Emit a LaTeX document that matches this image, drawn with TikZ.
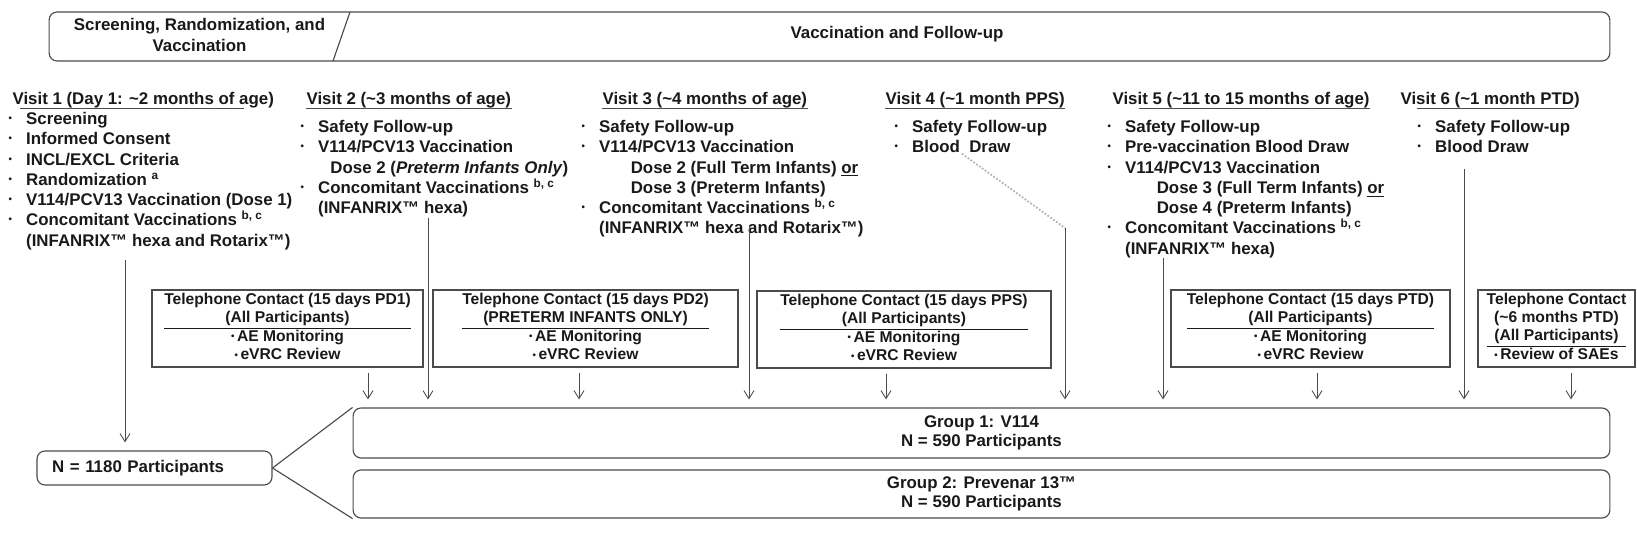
\documentclass[tikz,border=0pt]{standalone}
\usepackage{fontspec}
\setmainfont{Liberation Sans}
\usetikzlibrary{arrows.meta, positioning}

% list helpers
\newcommand{\itm}[1]{\makebox[10pt][l]{\raisebox{0.35ex}{\fontsize{5.5}{5.5}\selectfont\textbullet}}#1}
\newcommand{\cnt}[1]{\hspace*{10pt}#1}
\newcommand{\dose}[1]{\hspace*{28pt}#1}
\newcommand{\dt}{{\fontsize{5.5}{5.5}\selectfont\raisebox{0.35ex}{\textbullet}}\,}
\newcommand{\tm}{\texttrademark}
\newcommand{\sq}{\textasciitilde}

\begin{document}
\begin{tikzpicture}[x=0.02cm, y=-0.02cm, line width=0.65pt,
    >={Straight Barb[length=1.6mm, width=2mm]},
    vtxt/.style={font=\bfseries\fontsize{9.6}{11.5}\selectfont, text=txtgray, inner sep=0pt},
    vhead/.style={vtxt, anchor=west},
    vlist/.style={vtxt, anchor=north west, align=left},
    tele/.style={draw=linegray, font=\bfseries\fontsize{8.9}{10.4}\selectfont, text=txtgray,
        inner sep=0pt, minimum height=1.54cm},
    rbox/.style={draw=linegray, rounded corners=4.5pt, font=\bfseries\fontsize{9.6}{10.5}\selectfont,
        text=txtgray, align=center},
    grp/.style={rbox, minimum width=25.14cm},
    arr/.style={->, draw=linegray, line width=0.5pt, shorten >=0.16cm},
    uline/.style={draw=linegray, line width=0.5pt}
]

    % --- Definitions ---
    \definecolor{linegray}{RGB}{75, 75, 75}
    \definecolor{txtgray}{RGB}{25, 25, 25}

    \useasboundingbox (0,0) rectangle (1637,553);

    % --- Banner ---
    \node[rbox, minimum width=31.22cm, minimum height=0.98cm] (banner) at (829.5,36.5) {};
    \coordinate (s1) at (333,61);
    \coordinate (s2) at (350,12);
    \draw[linegray] (s1) -- (s2);
    \node[vtxt, align=center] (srv) at (199.5,35) {Screening, Randomization, and\\Vaccination};
    \node[vtxt] (vfu) at (897,34) {Vaccination and Follow-up};

    % --- Visit headers ---
    \node[vhead] (h1) at (12,100) {Visit 1 (Day 1: \sq2 months of age)};
    \node[vhead] (h2) at (306,100) {Visit 2 (\sq3 months of age)};
    \node[vhead] (h3) at (602,100) {Visit 3 (\sq4 months of age)};
    \node[vhead] (h4) at (885,100) {Visit 4 (\sq1 month PPS)};
    \node[vhead] (h5) at (1112,100) {Visit 5 (\sq11 to 15 months of age)};
    \node[vhead] (h6) at (1400,100) {Visit 6 (\sq1 month PTD)};

    \draw[uline, shorten <=0.16cm, shorten >=0.62cm] (h1.south west) -- (h1.south east);
    \draw[uline] (h2.south west) -- (h2.south east);
    \draw[uline] (h3.south west) -- (h3.south east);
    \draw[uline] (h4.south west) -- (h4.south east);
    \draw[uline, shorten <=0.54cm] (h5.south west) -- (h5.south east);
    \draw[uline, shorten <=0.34cm, shorten >=0.12cm] (h6.south west) -- (h6.south east);

    % --- Visit lists ---
    \node[vlist] (l1) at (8,112) {\itm{Screening}\\\itm{Informed Consent}\\\itm{INCL/EXCL Criteria}\\
        \itm{Randomization \textsuperscript{a}}\\\itm{V114/PCV13 Vaccination (Dose 1)}\\
        \itm{Concomitant Vaccinations \textsuperscript{b, c}}\\\cnt{(INFANRIX\tm{} hexa and Rotarix\tm)}};
    \node[vlist] (l2) at (300,120) {\itm{Safety Follow-up}\\\itm{V114/PCV13 Vaccination}\\
        \hspace*{17pt}Dose 2 (\textit{Preterm Infants Only})\\
        \itm{Concomitant Vaccinations \textsuperscript{b, c}}\\\cnt{(INFANRIX\tm{} hexa)}};
    \node[vlist] (l3) at (581,120) {\itm{Safety Follow-up}\\\itm{V114/PCV13 Vaccination}\\
        \dose{Dose 2 (Full Term Infants) \underline{or}}\\\dose{Dose 3 (Preterm Infants)}\\
        \itm{Concomitant Vaccinations \textsuperscript{b, c}}\\\cnt{(INFANRIX\tm{} hexa and Rotarix\tm)}};
    \node[vlist] (l4) at (894,120) {\itm{Safety Follow-up}\\\itm{Blood\ \ Draw}};
    \node[vlist] (l5) at (1107,120) {\itm{Safety Follow-up}\\\itm{Pre-vaccination Blood Draw}\\
        \itm{V114/PCV13 Vaccination}\\\dose{Dose 3 (Full Term Infants) \underline{or}}\\
        \dose{Dose 4 (Preterm Infants)}\\\itm{Concomitant Vaccinations \textsuperscript{b, c}}\\
        \cnt{(INFANRIX\tm{} hexa)}};
    \node[vlist] (l6) at (1417,120) {\itm{Safety Follow-up}\\\itm{Blood Draw}};

    % --- Telephone contacts ---
    \node[tele, minimum width=5.42cm] (t1) at (287.5,328.5) {\begin{tabular}{@{}c@{}}
        Telephone Contact (15 days PD1)\\(All Participants)\\\hline\dt AE Monitoring\\\dt eVRC Review\end{tabular}};
    \node[tele, minimum width=6.10cm] (t2) at (585.5,328.5) {\begin{tabular}{@{}c@{}}
        Telephone Contact (15 days PD2)\\(PRETERM INFANTS ONLY)\\\hline\dt AE Monitoring\\\dt eVRC Review\end{tabular}};
    \node[tele, minimum width=5.88cm] (t3) at (904,329.5) {\begin{tabular}{@{}c@{}}
        Telephone Contact (15 days PPS)\\(All Participants)\\\hline\dt AE Monitoring\\\dt eVRC Review\end{tabular}};
    \node[tele, minimum width=5.58cm] (t5) at (1310.5,328.5) {\begin{tabular}{@{}c@{}}
        Telephone Contact (15 days PTD)\\(All Participants)\\\hline\dt AE Monitoring\\\dt eVRC Review\end{tabular}};
    \node[tele, minimum width=3.14cm] (t6) at (1556.5,328.5) {\begin{tabular}{@{}c@{}}
        Telephone Contact\\(\sq6 months PTD)\\(All Participants)\\\hline\dt Review of SAEs\end{tabular}};

    % --- Groups ---
    \node[rbox, text width=4.1cm, align=left, inner xsep=0.3cm, minimum height=0.68cm] (n) at (154.5,468)
        {N = 1180 Participants};
    \node[grp, minimum height=1.0cm] (g1) at (981.5,433) {Group 1: V114\\N = 590 Participants};
    \node[grp, minimum height=0.96cm] (g2) at (981.5,494) {Group 2: Prevenar 13\tm\\N = 590 Participants};

    \draw[linegray] (n.east) -- (g1.north west);
    \draw[linegray] (n.east) -- (g2.south west);

    % --- Visit arrows ---
    \draw[arr, shorten <=0.2cm] (125,0 |- l1.south) -- (125,0 |- n.north);
    \draw[arr] (428,0 |- l2.south) -- (428,0 |- g1.north);
    \draw[arr, shorten <=-0.25cm] (749,0 |- l3.south) -- (749,0 |- g1.north);
    \coordinate (k4) at (1065,228);
    \draw[black!30, densely dotted, line width=1pt] (962,0 |- l4.south) -- (k4);
    \draw[arr] (k4) -- (k4 |- g1.north);
    \draw[arr] (1163,0 |- l5.south) -- (1163,0 |- g1.north);
    \draw[arr, shorten <=0.3cm] (1464,0 |- l6.south) -- (1464,0 |- g1.north);

    % --- Telephone arrows ---
    \foreach \t/\x in {t1/368, t2/579, t3/886, t5/1317, t6/1571}
        \draw[arr, shorten <=0.1cm] (\x,0 |- \t.south) -- (\x,0 |- g1.north);

\end{tikzpicture}
\end{document}
